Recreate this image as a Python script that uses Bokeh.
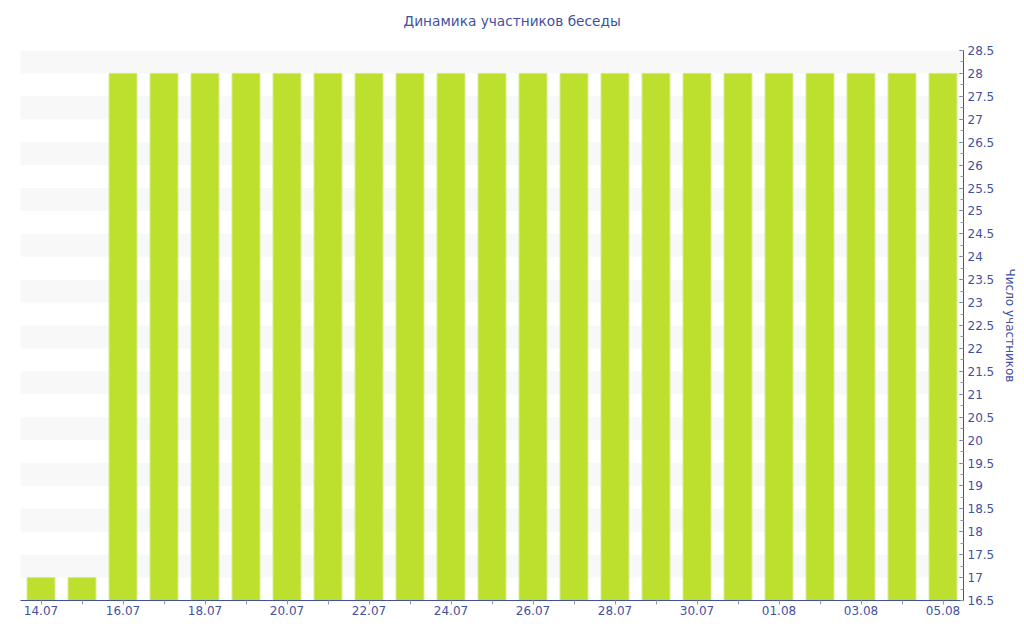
from bokeh.plotting import figure
from bokeh.models import (Range1d, FixedTicker, SingleIntervalTicker, Title,
                          CustomJSTickFormatter, ColumnDataSource, BoxAnnotation)
from bokeh.embed import file_html
from bokeh.resources import INLINE

# ---- data ----
dates = ["14.07", "15.07", "16.07", "17.07", "18.07", "19.07", "20.07", "21.07",
         "22.07", "23.07", "24.07", "25.07", "26.07", "27.07", "28.07", "29.07",
         "30.07", "31.07", "01.08", "02.08", "03.08", "04.08", "05.08"]
members = [17, 17, 28, 28, 28, 28, 28, 28, 28, 28, 28, 28, 28, 28, 28, 28,
           28, 28, 28, 28, 28, 28, 28]
title_text = "Динамика участников беседы"
y_label = "Число участников"
y_min, y_max, y_step = 16.5, 28.5, 0.5

FONT = "DejaVu Sans"
BLUE = "#3f51a0"
BAR = "#bde02f"

idx = list(range(len(dates)))
src = ColumnDataSource(dict(x=idx, top=members, date=dates))

p = figure(frame_width=943, frame_height=550,
           x_range=Range1d(-0.5, len(dates) - 0.5),
           y_range=Range1d(y_min, y_max),
           y_axis_location="right",
           output_backend="svg", toolbar_location=None,
           min_border_left=20, min_border_top=50, min_border_bottom=30,
           min_border_right=53)
p.outline_line_color = None
p.background_fill_color = "white"
p.border_fill_color = "white"

# alternating light bands
n = y_min + 0.5
while n < y_max:
    p.add_layout(BoxAnnotation(bottom=n, top=n + y_step, fill_color="#f8f8f8",
                               fill_alpha=1.0, line_color=None, level="underlay"))
    n += 1.0

p.vbar(x="x", top="top", bottom=y_min, width=0.68, source=src,
       fill_color=BAR, line_color="#d3ea7e", line_width=1)

p.xgrid.visible = False
p.ygrid.visible = False

# spacer between frame and title, to lift the title
p.add_layout(Title(text=" ", text_font_size="10px", standoff=4), "above")

# title
p.title.text = title_text
p.title.align = "left"
p.title.offset = 383
p.title.standoff = 10
p.title.vertical_align = "bottom"
p.title.text_font = FONT
p.title.text_font_size = "13.7px"
p.title.text_font_style = "normal"
p.title.text_color = BLUE

# x axis
xa = p.xaxis[0]
xa.ticker = FixedTicker(ticks=idx)
xa.formatter = CustomJSTickFormatter(args=dict(labels=dates),
                                     code="return (tick % 2 == 0) ? labels[tick] : '';")
xa.axis_line_color = BLUE
xa.major_tick_line_color = "#9a9a9a"
xa.major_tick_in = 0
xa.major_tick_out = 4
xa.minor_tick_line_color = None
xa.major_label_text_font = FONT
xa.major_label_text_font_size = "12px"
xa.major_label_text_color = BLUE
xa.major_label_standoff = 1

# y axis
ya = p.yaxis[0]
ya.ticker = SingleIntervalTicker(interval=y_step, num_minor_ticks=2)
ya.formatter = CustomJSTickFormatter(code="return tick.toString();")
ya.axis_line_color = BLUE
ya.major_tick_line_color = BLUE
ya.major_tick_in = 4
ya.major_tick_out = 0
ya.minor_tick_line_color = "#9a9a9a"
ya.minor_tick_in = 3
ya.minor_tick_out = 0
ya.major_label_text_font = FONT
ya.major_label_text_font_size = "12px"
ya.major_label_text_color = BLUE
ya.major_label_standoff = 4
ya.axis_label = y_label
ya.axis_label_text_font = FONT
ya.axis_label_text_font_size = "12px"
ya.axis_label_text_font_style = "normal"
ya.axis_label_text_color = BLUE
ya.axis_label_standoff = 6

open("out.html", "w").write(file_html(p, INLINE))
